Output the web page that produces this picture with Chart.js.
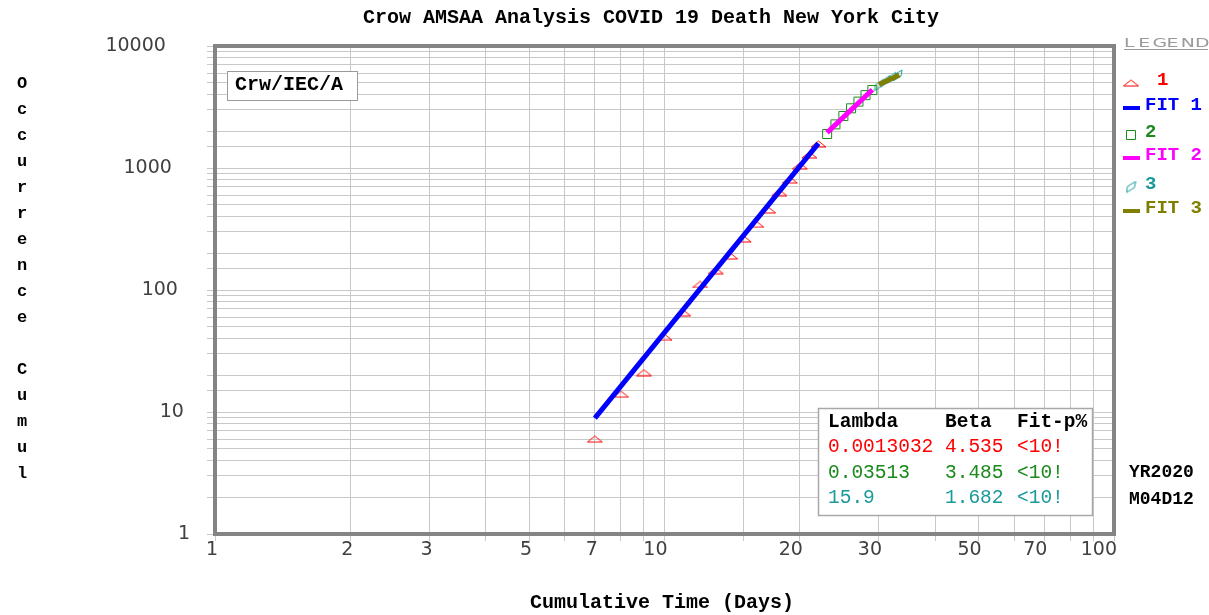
<!DOCTYPE html>
<html lang="en">
<head>
<meta charset="UTF-8">
<title>Crow AMSAA Analysis COVID 19 Death New York City</title>
<script src="https://cdn.jsdelivr.net/npm/chart.js"></script>
<style>
  body { margin: 0; padding: 0; background: #ffffff; }
  #wrap { width: 1209px; height: 615px; }
</style>
</head>
<body>
<div id="wrap"><canvas id="crowChart" width="1209" height="615"></canvas></div>
<script>
// data (cumulative days / cumulative deaths)
var days1 = [7, 8, 9, 10, 11, 12, 13, 14, 15, 16, 17, 18, 19, 20, 21, 22];
var deaths1 = [6, 14, 21, 41, 65, 111, 144, 190, 262, 346, 453, 628, 797, 1038, 1279, 1574];
var days2 = [23, 24, 25, 26, 27, 28, 29];
var deaths2 = [1900, 2280, 2670, 3085, 3500, 3960, 4356];
var days3 = [30, 31, 32, 33];
var deaths3 = [4780, 5150, 5480, 5740];

// fitted lines, end points only
var fit1Days = [7, 22];
var fit1Vals = [8.9, 1590];
var fit2Days = [23, 29];
var fit2Vals = [1950, 4380];
var fit3Days = [30, 33.3];
var fit3Vals = [4830, 5780];

var seriesNames = ['1', 'FIT 1', '2', 'FIT 2', '3', 'FIT 3'];
var tableHead = ['Lambda', 'Beta', 'Fit-p%'];
var lambdas = ['0.0013032', '0.03513', '15.9'];
var betas = ['4.535', '3.485', '1.682'];
var fitP = ['<10!', '<10!', '<10!'];

var xTickLabels = [1, 2, 3, 5, 7, 10, 20, 30, 50, 70, 100];
var yTickLabels = [1, 10, 100, 1000, 10000];

var MONO = '"Liberation Mono", "Courier New", monospace';
var RED = '#ff0000', BLUE = '#0000ff', GREEN = '#1a8a1a', MAGENTA = '#ff00ff', TEAL = '#1a9a9a', OLIVE = '#808000';

function toPts(xs, ys) {
    var out = [];
    for (var i = 0; i < xs.length; i++) out.push({x: xs[i], y: ys[i]});
    return out;
}

// small canvases used as point styles
function makeMarker(kind, color) {
    var c = document.createElement('canvas');
    var g;
    if (kind === 'tri') {
        c.width = 17; c.height = 8;
        g = c.getContext('2d');
        g.beginPath();
        g.moveTo(1, 7); g.lineTo(8.5, 1); g.lineTo(16, 7); g.closePath();
    } else if (kind === 'sq') {
        c.width = 12; c.height = 12;
        g = c.getContext('2d');
        g.beginPath();
        g.rect(1.5, 1.5, 9, 9);
    } else {
        c.width = 11; c.height = 13;
        g = c.getContext('2d');
        g.beginPath();
        g.moveTo(1, 12); g.lineTo(2, 6); g.lineTo(10, 1); g.lineTo(9, 7); g.closePath();
    }
    g.strokeStyle = color;
    g.lineWidth = 1;
    g.stroke();
    return c;
}

var triImg = makeMarker('tri', RED);
var sqImg = makeMarker('sq', GREEN);
var parImg = makeMarker('par', TEAL);

function near(v, list) {
    for (var i = 0; i < list.length; i++) {
        if (Math.abs(v - list[i]) < list[i] * 1e-6) return true;
    }
    return false;
}

var decorPlugin = {
    id: 'decor',
    beforeDatasetsDraw: function(chart) {
        var a = chart.chartArea, ctx = chart.ctx;
        ctx.save();
        ctx.strokeStyle = '#848484';
        ctx.lineWidth = 4;
        ctx.strokeRect(a.left, a.top, a.right - a.left, a.bottom - a.top);
        ctx.restore();
    },
    afterDraw: function(chart) {
        var ctx = chart.ctx;
        ctx.save();
        ctx.textBaseline = 'alphabetic';

        // title
        ctx.fillStyle = '#000';
        ctx.font = 'bold 20px ' + MONO;
        ctx.textAlign = 'center';
        ctx.fillText('Crow AMSAA Analysis COVID 19 Death New York City', 651, 23);

        // x title
        ctx.fillText('Cumulative Time (Days)', 662, 608);

        // y title, one letter per row
        var yTitle = 'Occurrence Cumul';
        ctx.font = 'bold 17px ' + MONO;
        for (var i = 0; i < yTitle.length; i++) {
            ctx.fillText(yTitle[i], 22, 87.5 + 26.03 * i);
        }

        // method box
        ctx.fillStyle = '#fff';
        ctx.fillRect(227, 71, 130, 29);
        ctx.strokeStyle = '#9a9a9a';
        ctx.lineWidth = 1;
        ctx.strokeRect(227.5, 71.5, 130, 29);
        ctx.fillStyle = '#000';
        ctx.font = 'bold 20px ' + MONO;
        ctx.textAlign = 'left';
        ctx.fillText('Crw/IEC/A', 235, 90);

        // stats table
        ctx.fillStyle = '#fff';
        ctx.fillRect(818, 408, 274, 107);
        ctx.strokeStyle = '#a8a8a8';
        ctx.lineWidth = 1.5;
        ctx.strokeRect(818.5, 408.5, 274, 107);
        var cols = [828, 945, 1017];
        ctx.fillStyle = '#000';
        ctx.font = 'bold 19.5px ' + MONO;
        for (var c = 0; c < 3; c++) ctx.fillText(tableHead[c], cols[c], 427);
        var rowCols = [RED, GREEN, TEAL];
        ctx.font = '19.5px ' + MONO;
        for (var r = 0; r < 3; r++) {
            ctx.fillStyle = rowCols[r];
            var yy = 452 + r * 25.5;
            ctx.fillText(lambdas[r], cols[0], yy);
            ctx.fillText(betas[r], cols[1], yy);
            ctx.fillText(fitP[r], cols[2], yy);
        }

        // date stamp
        ctx.fillStyle = '#000';
        ctx.font = 'bold 18px ' + MONO;
        ctx.fillText('YR2020', 1129, 477);
        ctx.fillText('M04D12', 1129, 504);

        // legend heading
        ctx.fillStyle = '#9a9a9a';
        ctx.font = '13px "DejaVu Sans"';
        var head = 'LEGEND';
        for (var k = 0; k < head.length; k++) {
            ctx.save();
            ctx.translate(1124 + k * 14.2, 47);
            ctx.scale(1.45, 1);
            ctx.fillText(head[k], 0, 0);
            ctx.restore();
        }
        ctx.fillRect(1124, 49, 84, 1);

        // legend entries
        var rows = [
            {icon: triImg, y: 83, tx: 1157, col: RED},
            {line: BLUE, y: 108, tx: 1145, col: BLUE},
            {icon: sqImg, y: 135, tx: 1145, col: GREEN},
            {line: MAGENTA, y: 158, tx: 1145, col: MAGENTA},
            {icon: parImg, y: 187, tx: 1145, col: TEAL},
            {line: OLIVE, y: 211, tx: 1145, col: OLIVE}
        ];
        ctx.font = 'bold 19px ' + MONO;
        ctx.textBaseline = 'middle';
        for (var j = 0; j < rows.length; j++) {
            var it = rows[j];
            if (it.icon) {
                ctx.drawImage(it.icon, 1131 - it.icon.width / 2, it.y - it.icon.height / 2);
            } else {
                ctx.fillStyle = it.line;
                ctx.fillRect(1123, it.y - 2, 17, 4);
            }
            ctx.fillStyle = it.col;
            ctx.fillText(seriesNames[j], it.tx, it.y - 3);
        }
        ctx.restore();
    }
};

var gridCol = '#c8c8c8';
var tickFont = {family: '"DejaVu Sans"', size: 19};

new Chart(document.getElementById('crowChart'), {
    type: 'scatter',
    data: {
        datasets: [
            {label: seriesNames[1], data: toPts(fit1Days, fit1Vals), showLine: true, borderColor: BLUE, borderWidth: 5, pointRadius: 0, order: 0},
            {label: seriesNames[3], data: toPts(fit2Days, fit2Vals), showLine: true, borderColor: MAGENTA, borderWidth: 5, pointRadius: 0, order: 0},
            {label: seriesNames[5], data: toPts(fit3Days, fit3Vals), showLine: true, borderColor: OLIVE, borderWidth: 5, pointRadius: 0, order: 0},
            {label: seriesNames[0], data: toPts(days1, deaths1), showLine: false, pointStyle: triImg, pointRadius: 5, order: 1},
            {label: seriesNames[2], data: toPts(days2, deaths2), showLine: false, pointStyle: sqImg, pointRadius: 5, order: 1},
            {label: seriesNames[4], data: toPts(days3, deaths3), showLine: false, pointStyle: parImg, pointRadius: 5, order: 1}
        ]
    },
    options: {
        responsive: false,
        animation: false,
        events: [],
        layout: {padding: {top: 46, right: 95, left: 0, bottom: 0}},
        plugins: {legend: {display: false}, tooltip: {enabled: false}},
        scales: {
            x: {
                type: 'logarithmic',
                min: 1, max: 100,
                border: {display: false},
                grid: {color: gridCol, tickColor: gridCol, tickLength: 7, lineWidth: 1},
                ticks: {
                    autoSkip: false, maxRotation: 0, align: 'end', padding: -2, labelOffset: 3,
                    color: '#404040', font: tickFont,
                    callback: function(v) { return near(v, xTickLabels) ? String(Math.round(v)) : ''; }
                },
                afterFit: function(s) { s.height = 81; }
            },
            y: {
                type: 'logarithmic',
                min: 1, max: 10000,
                border: {display: false},
                grid: {color: gridCol, tickColor: gridCol, tickLength: 8, lineWidth: 1},
                ticks: {
                    autoSkip: false, padding: 17,
                    color: '#404040', font: tickFont,
                    callback: function(v) {
                        if (!near(v, yTickLabels)) return '';
                        var s = String(Math.round(v));
                        return s + ' '.repeat(s.length - 1);
                    }
                },
                afterFit: function(s) { s.width = 215; }
            }
        }
    },
    plugins: [decorPlugin]
});
</script>
</body>
</html>
